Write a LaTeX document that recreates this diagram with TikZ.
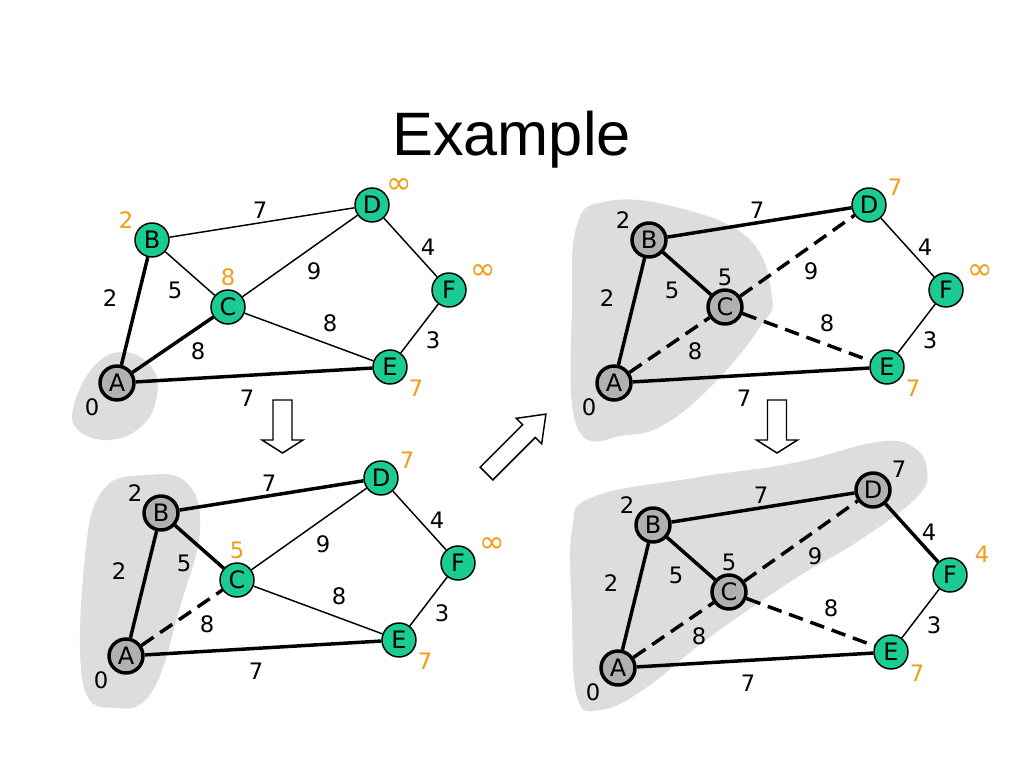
\documentclass[tikz,border=0pt]{standalone}
\usepackage{fontspec}
\setmainfont{Liberation Sans}
\newfontfamily\graphfont{DejaVu Sans}
\definecolor{nodegreen}{RGB}{26,204,148}
\definecolor{donegray}{RGB}{176,176,176}
\definecolor{blobgray}{RGB}{221,221,221}
\definecolor{distorange}{RGB}{245,155,20}
\newcommand{\infdist}{{\fontsize{23}{23}\selectfont ∞}}
\tikzset{
    frontier/.style={circle, draw, fill=nodegreen, line width=1.1pt, minimum size=25.5pt, inner sep=0pt,
        font=\graphfont\fontsize{18}{18}\selectfont},
    settled/.style={frontier, fill=donegray, line width=2.6pt},
    light/.style={line width=1.1pt},
    heavy/.style={line width=2.6pt},
    tree/.style={heavy, dash pattern=on 11pt off 6pt},
    weight/.style={inner sep=0pt, font=\graphfont\fontsize{17}{17}\selectfont},
    blob/.style={fill=blobgray},
    bigarrow/.style={draw, fill=white, line width=1.1pt, line join=miter}
}
% the six vertices, same layout in every panel
\newcommand{\graphnodes}[7]{%
    \node[#2] (#1A) at (117,383) {A};
    \node[#3] (#1B) at (152,240) {B};
    \node[#4] (#1C) at (228,307) {C};
    \node[#5] (#1D) at (372,205) {D};
    \node[#6] (#1E) at (390,367) {E};
    \node[#7] (#1F) at (449,290) {F};
}
\newcommand{\graphweights}[1]{%
    \foreach \t/\x/\y [count=\i] in {2/110/298, 5/175/290, 7/260/210, 9/314/271, 8/330/323,
                                     8/198/351, 7/247/398, 4/428/247, 3/433/340}
        \node[weight] (#1w\i) at (\x,\y) {\t};
}
\begin{document}
\begin{tikzpicture}[line cap=butt, line join=round, x=0.75pt, y=-0.75pt]
    \fill[white] (0,0) rectangle (1024,768);
    \useasboundingbox (0,0) rectangle (1024,768);
    \node[font=\fontsize{46}{50}\selectfont, anchor=base, inner sep=0pt] (title) at (511.5,155) {Example};
    % panel 1
    \begin{scope}
        \fill[blob] plot[smooth cycle, tension=0.7] coordinates {(74,405) (95,365) (125,352) (152,368)
            (157,395) (143,425) (110,440) (78,430)};
        \graphnodes{p}{settled}{frontier}{frontier}{frontier}{frontier}{frontier}
        \foreach \u/\v/\s in {A/B/heavy, A/C/heavy, A/E/heavy, B/C/light, B/D/light,
                              C/D/light, C/E/light, D/F/light, E/F/light}
            \draw[\s] (p\u) -- (p\v);
        \graphweights{p}
        \foreach \t/\x/\y/\c [count=\i] in {0/92/407/black, 2/126/220/distorange, 8/228/277/distorange,
                                            \infdist/399/186/distorange, 7/416/388/distorange, \infdist/483/272/distorange}
            \node[weight, text=\c] (pd\i) at (\x,\y) {\t};
    \end{scope}
    % panel 2
    \begin{scope}[shift={(497,0)}]
        \fill[blob] plot[smooth cycle, tension=0.7] coordinates {(75,300) (80,225) (106,202) (170,205)
            (250,237) (275,297) (263,327) (223,377) (173,421) (130,435) (80,427)};
        \graphnodes{q}{settled}{settled}{settled}{frontier}{frontier}{frontier}
        \foreach \u/\v/\s in {A/B/heavy, B/C/heavy, B/D/heavy, A/E/heavy, A/C/tree,
                              C/D/tree, C/E/tree, D/F/light, E/F/light}
            \draw[\s] (q\u) -- (q\v);
        \graphweights{q}
        \foreach \t/\x/\y/\c [count=\i] in {0/92/407/black, 2/126/220/black, 5/228/277/black,
                                            7/398/187/distorange, 7/416/388/distorange, \infdist/483/272/distorange}
            \node[weight, text=\c] (qd\i) at (\x,\y) {\t};
    \end{scope}
    % panel 3
    \begin{scope}[shift={(9,273)}]
        \fill[blob] plot[smooth cycle, tension=0.7] coordinates {(138,202) (94,217) (76,284) (74,410)
            (108,435) (144,417) (171,334) (191,257) (178,210)};
        \graphnodes{r}{settled}{settled}{frontier}{frontier}{frontier}{frontier}
        \foreach \u/\v/\s in {A/B/heavy, B/C/heavy, B/D/heavy, A/E/heavy, A/C/tree,
                              C/D/light, C/E/light, D/F/light, E/F/light}
            \draw[\s] (r\u) -- (r\v);
        \graphweights{r}
        \foreach \t/\x/\y/\c [count=\i] in {0/92/407/black, 2/126/220/black, 5/228/277/distorange,
                                            7/398/187/distorange, 7/416/388/distorange, \infdist/483/272/distorange}
            \node[weight, text=\c] (rd\i) at (\x,\y) {\t};
    \end{scope}
    % panel 4
    \begin{scope}[shift={(501,285)}]
        \fill[blob] plot[smooth cycle, tension=0.7] coordinates {(71,245) (92,212) (192,193) (292,178)
            (376,157) (412,162) (426,185) (416,212) (359,255) (292,295) (209,352) (142,405) (99,425)
            (76,412) (71,330)};
        \graphnodes{s}{settled}{settled}{settled}{settled}{frontier}{frontier}
        \foreach \u/\v/\s in {A/B/heavy, B/C/heavy, B/D/heavy, D/F/heavy, A/E/heavy,
                              A/C/tree, C/D/tree, C/E/tree, E/F/light}
            \draw[\s] (s\u) -- (s\v);
        \graphweights{s}
        \foreach \t/\x/\y/\c [count=\i] in {0/92/407/black, 2/126/220/black, 5/228/277/black,
                                            7/398/184/black, 7/416/388/distorange, 4/481/269/distorange}
            \node[weight, text=\c] (sd\i) at (\x,\y) {\t};
    \end{scope}
    % step arrows
    \draw[bigarrow, shift={(282.5,400)}] (-9.5,0) -- (9.5,0) -- (9.5,40) -- (20.5,40) -- (0,53)
        -- (-20.5,40) -- (-9.5,40) -- cycle;
    \draw[bigarrow, shift={(777,400)}] (-9.5,0) -- (9.5,0) -- (9.5,40) -- (20.5,40) -- (0,53)
        -- (-20.5,40) -- (-9.5,40) -- cycle;
    \draw[bigarrow, shift={(486.5,473.5)}, rotate=135] (-9,0) -- (9,0) -- (9,60) -- (18,60) -- (0,84)
        -- (-18,60) -- (-9,60) -- cycle;
\end{tikzpicture}
\end{document}
